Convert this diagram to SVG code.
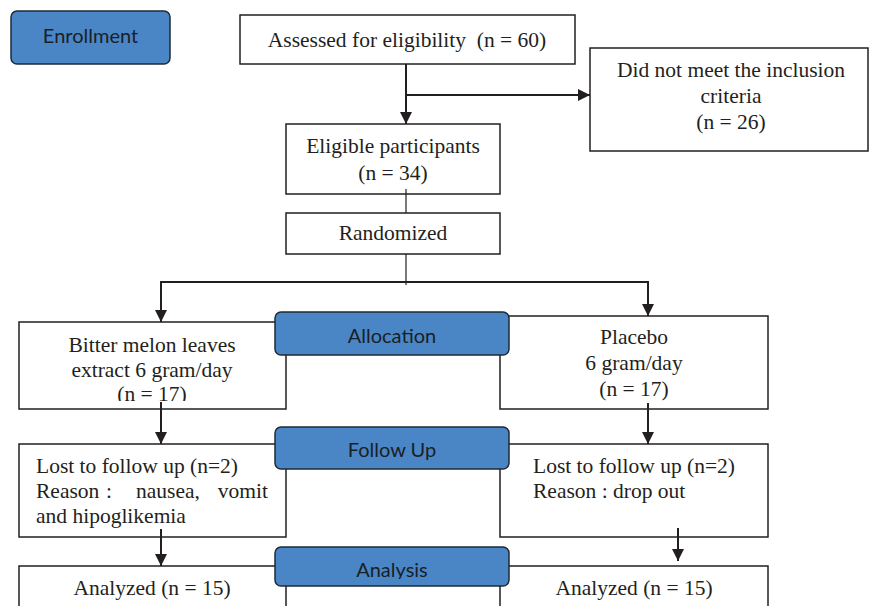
<svg xmlns="http://www.w3.org/2000/svg" width="880" height="606" viewBox="0 0 880 606">
<style>
.box{fill:#fff;stroke:#231f20;stroke-width:1.5}
.lab{fill:#4a86c6;stroke:#1f2a36;stroke-width:1.5}
.t{font-family:"Liberation Serif","Times New Roman",serif;font-size:21.5px;fill:#231f20}
.c{text-anchor:middle}
.s{font-family:Lato,"Open Sans",sans-serif;font-size:20px;fill:#1a1f26;text-anchor:middle}
.ln{fill:none;stroke:#231f20;stroke-width:2}
.thin{fill:none;stroke:#231f20;stroke-width:1.2}
</style>
<defs>
<marker id="ah" markerUnits="userSpaceOnUse" markerWidth="12" markerHeight="12" viewBox="0 0 12 12" refX="12" refY="6" orient="auto">
<path d="M0,0 L12,6 L0,12 z" fill="#231f20"/>
</marker>
<clipPath id="clipL"><rect x="19" y="322" width="267" height="79"/></clipPath>
<clipPath id="clipA"><rect x="275" y="547" width="234" height="32"/></clipPath>
</defs>

<g id="enrollment">
<rect class="lab" x="11" y="11" width="159" height="53" rx="6"/>
<text class="s" x="90.5" y="43">Enrollment</text>
</g>

<g id="assessed">
<rect class="box" x="240" y="15" width="335" height="49"/>
<text class="t c" x="407" y="47" xml:space="preserve">Assessed for eligibility  (n = 60)</text>
</g>

<g id="excluded">
<rect class="box" x="590" y="48" width="278" height="103"/>
<text class="t c" x="731" y="77">Did not meet the inclusion</text>
<text class="t c" x="731" y="103">criteria</text>
<text class="t c" x="731" y="129">(n = 26)</text>
</g>

<g id="eligible">
<rect class="box" x="286" y="124" width="214" height="70"/>
<text class="t c" x="393" y="153">Eligible participants</text>
<text class="t c" x="393" y="180">(n = 34)</text>
</g>

<g id="randomized">
<rect class="box" x="286" y="213" width="214" height="41"/>
<text class="t c" x="393" y="240">Randomized</text>
</g>

<g id="intervention">
<rect class="box" x="19" y="322" width="267" height="87"/>
<text class="t c" x="152" y="352">Bitter melon leaves</text>
<text class="t c" x="152" y="377">extract 6 gram/day</text>
<text class="t c" x="152" y="401" clip-path="url(#clipL)">(n = 17)</text>
</g>

<g id="placebo">
<rect class="box" x="500" y="316" width="268" height="93"/>
<text class="t c" x="634" y="344">Placebo</text>
<text class="t c" x="634" y="370">6 gram/day</text>
<text class="t c" x="634" y="396">(n = 17)</text>
</g>

<g id="followup-left">
<rect class="box" x="19" y="444" width="267" height="93"/>
<text class="t" y="473"><tspan x="36">Lost to follow up (n=2)</tspan></text>
<text class="t" y="498"><tspan x="36">Reason</tspan><tspan x="106">:</tspan><tspan x="136">nausea,</tspan><tspan x="268" text-anchor="end">vomit</tspan></text>
<text class="t" y="523"><tspan x="36">and hipoglikemia</tspan></text>
</g>

<g id="followup-right">
<rect class="box" x="500" y="444" width="268" height="93"/>
<text class="t" x="533" y="473">Lost to follow up (n=2)</text>
<text class="t" x="533" y="498">Reason : drop out</text>
</g>

<g id="analyzed-left">
<rect class="box" x="19" y="566" width="267" height="60"/>
<text class="t c" x="152" y="595">Analyzed (n = 15)</text>
</g>

<g id="analyzed-right">
<rect class="box" x="500" y="566" width="268" height="60"/>
<text class="t c" x="634" y="595">Analyzed (n = 15)</text>
</g>

<g id="allocation">
<rect class="lab" x="275" y="312" width="234" height="43" rx="6"/>
<text class="s" x="392" y="343">Allocation</text>
</g>

<g id="followup-label">
<rect class="lab" x="275" y="427" width="234" height="42" rx="6"/>
<text class="s" x="392" y="457">Follow Up</text>
</g>

<g id="analysis-label">
<rect class="lab" x="275" y="547" width="234" height="39" rx="6"/>
<text class="s" x="392" y="577" clip-path="url(#clipA)">Analysis</text>
</g>

<g id="connectors">
<path class="ln" d="M406,64 V124" marker-end="url(#ah)"/>
<path class="ln" d="M406,95 H590" marker-end="url(#ah)"/>
<path class="thin" d="M406,189 V213"/>
<path class="thin" d="M406,254 V285"/>
<path class="ln" d="M160,282 H649"/>
<path class="ln" d="M161,281 V322" marker-end="url(#ah)"/>
<path class="ln" d="M648,281 V316" marker-end="url(#ah)"/>
<path class="ln" d="M161,402 V444" marker-end="url(#ah)"/>
<path class="ln" d="M648,403 V444" marker-end="url(#ah)"/>
<path class="ln" d="M161,529 V566" marker-end="url(#ah)"/>
<path class="ln" d="M678,528 V561" marker-end="url(#ah)"/>
</g>
</svg>
